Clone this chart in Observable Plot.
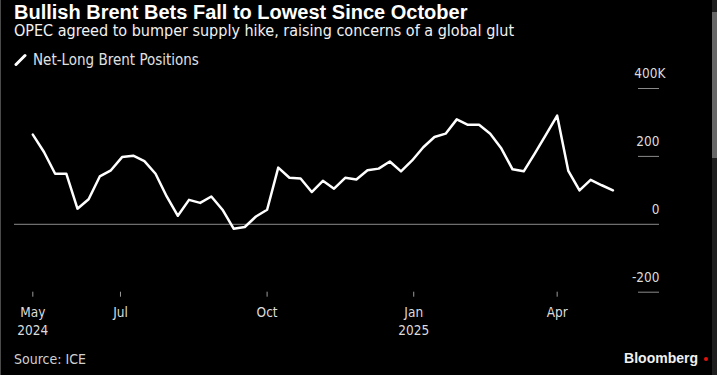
<!DOCTYPE html>
<html><head><meta charset="utf-8">
<script src="https://cdn.jsdelivr.net/npm/d3@7"></script>
<script src="https://cdn.jsdelivr.net/npm/@observablehq/plot@0.6"></script>
<style>
html,body{margin:0;padding:0;background:#000;}
#wrap{position:relative;width:717px;height:375px;background:#000;overflow:hidden;}
.t{position:absolute;white-space:nowrap;line-height:1;}
.cond{font-family:"DejaVu Sans Condensed","DejaVu Sans",sans-serif;font-stretch:semi-condensed;}
#title{left:14px;top:1px;font:bold 20px "Liberation Sans",Arial,sans-serif;color:#fff;}
#subtitle{left:14px;top:23px;font-size:16px;color:#f2f2f2;}
#legend{left:33px;top:52.5px;font-size:15px;color:#e0e0e0;}
#legicon{position:absolute;left:14px;top:52px;}
#source{left:14px;top:351.5px;font-size:14px;color:#d0d0d0;}
#brand{right:19px;top:350px;font:bold 14px "Liberation Sans",Arial,sans-serif;color:#f0f0f0;}
#dot{position:absolute;left:704px;top:357px;width:4px;height:4px;border-radius:50%;background:#e3120b;}
#chart{position:absolute;left:0;top:56px;}
#chart svg{overflow:visible;}
#lborder{position:absolute;left:0;top:0;width:1px;height:375px;background:#4a4a4a;}
#sbtrack{position:absolute;left:712px;top:0;width:5px;height:375px;background:#1e1e1e;}
#sbthumb{position:absolute;left:712px;top:12px;width:5px;height:146px;background:#666;}
</style></head><body>
<div id="wrap">
  <div class="t" id="title">Bullish Brent Bets Fall to Lowest Since October</div>
  <div class="t cond" id="subtitle">OPEC agreed to bumper supply hike, raising concerns of a global glut</div>
  <svg id="legicon" width="14" height="14"><line x1="2" y1="12.5" x2="11" y2="3.5" stroke="#fff" stroke-width="3" stroke-linecap="round"/></svg>
  <div class="t cond" id="legend">Net-Long Brent Positions</div>
  <div id="chart"></div>
  <div class="t cond" id="source">Source: ICE</div>
  <div class="t" id="brand">Bloomberg</div>
  <div id="dot"></div>
  <div id="lborder"></div>
  <div id="sbtrack"></div>
  <div id="sbthumb"></div>
</div>
<script>
// Weekly ICE net-long Brent positions (thousands of contracts), first week = startDate
const startDate = "2024-05-07";
const netLongK = [264,213,149,149,46,74,141,159,198,202,186,149,82,25,72,63,82,43,-13,-8,23,43,167,137,135,95,128,105,137,132,159,164,185,156,188,227,257,267,309,293,293,267,223,162,156,209,264,320,157,100,131,115,100];

const xTickDates = ["2024-05-07","2024-07-01","2024-10-01","2025-01-01","2025-04-01"];
const xTickLabels = ["May\n2024","Jul","Oct","Jan\n2025","Apr"];
const yTicks = [-200, 0, 200];
const yTickLabels = ["-200","0","200"];
const yTopTick = 400;
const yTopLabel = "400K";

const start = new Date(startDate + "T00:00Z");
const data = netLongK.map((v, i) => ({date: d3.utcDay.offset(start, 7 * i), value: v}));
const xTicks = xTickDates.map(s => new Date(s + "T00:00Z"));
const xLabelMap = new Map(xTicks.map((d, i) => [+d, xTickLabels[i]]));
const yLabelMap = new Map(yTicks.map((d, i) => [d, yTickLabels[i]]));
const font = '"DejaVu Sans Condensed","DejaVu Sans",sans-serif';

const chart = Plot.plot({
  width: 717,
  height: 284,
  marginTop: 32,
  marginBottom: 48.3,
  marginLeft: 14,
  marginRight: 58,
  style: {background: "transparent", color: "#dcdcdc", fontFamily: font, fontSize: "13.5px", fontStretch: "semi-condensed", overflow: "visible"},
  x: {type: "utc", domain: [new Date("2024-04-25T12:00Z"), new Date("2025-06-04T05:00Z")]},
  y: {domain: [-200, 400]},
  marks: [
    Plot.ruleY([0], {stroke: "#8a8a8a", strokeWidth: 1}),
    Plot.ruleY([...yTicks, yTopTick].filter(d => d !== 0), {stroke: "#8a8a8a", strokeWidth: 1, insetLeft: 624}),
    Plot.axisY({ticks: yTicks, anchor: "right", label: null, tickSize: 0, tickPadding: 0, textAnchor: "end", dy: -14.5, fill: "#dcdcdc", tickFormat: d => yLabelMap.get(d)}),
    Plot.axisY({ticks: [yTopTick], anchor: "right", label: null, tickSize: 0, tickPadding: 0, textAnchor: "end", dx: 6, dy: -14.5, fill: "#dcdcdc", tickFormat: () => yTopLabel}),
    Plot.axisX({ticks: xTicks, anchor: "bottom", label: null, tickSize: 5, tickPadding: 8, stroke: "#9a9a9a", fill: "#dcdcdc", lineHeight: 1.27, tickFormat: d => xLabelMap.get(+d)}),
    Plot.line(data, {x: "date", y: "value", stroke: "#fff", strokeWidth: 2.5})
  ]
});
document.getElementById("chart").appendChild(chart);
</script>
</body></html>
